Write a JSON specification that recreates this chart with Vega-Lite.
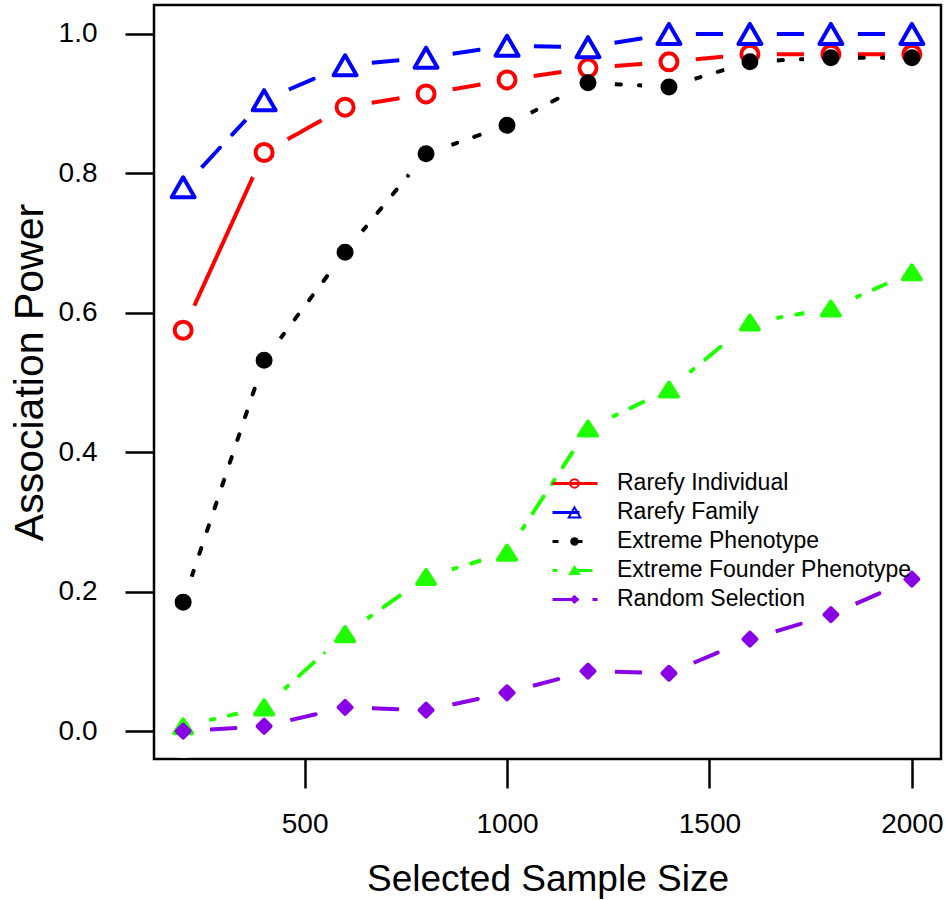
{
  "$schema": "https://vega.github.io/schema/vega-lite/v6.json",
  "width": 787,
  "height": 754,
  "autosize": {"type": "none"},
  "padding": {"left": 154, "top": 5, "right": 5, "bottom": 141},
  "background": "white",
  "config": {
    "font": "Liberation Sans",
    "view": {"stroke": "black", "strokeWidth": 2.5},
    "axis": {
      "grid": false,
      "domain": false,
      "tickColor": "black",
      "tickWidth": 2.5,
      "tickSize": 29,
      "labelColor": "black",
      "labelFontSize": 28,
      "labelFont": "Liberation Sans",
      "titleColor": "black",
      "titleFont": "Liberation Sans",
      "titleFontWeight": "normal"
    },
    "legend": {
      "orient": "none",
      "labelFontSize": 23,
      "labelColor": "black",
      "labelFont": "Liberation Sans",
      "labelLimit": 400,
      "clipHeight": 28.75,
      "rowPadding": 0,
      "padding": 0
    }
  },
  "data": {
    "values": [
      {"series": "Rarefy Individual", "n": 200, "power": 0.575},
      {"series": "Rarefy Individual", "n": 400, "power": 0.830},
      {"series": "Rarefy Individual", "n": 600, "power": 0.895},
      {"series": "Rarefy Individual", "n": 800, "power": 0.914},
      {"series": "Rarefy Individual", "n": 1000, "power": 0.934},
      {"series": "Rarefy Individual", "n": 1200, "power": 0.951},
      {"series": "Rarefy Individual", "n": 1400, "power": 0.960},
      {"series": "Rarefy Individual", "n": 1600, "power": 0.971},
      {"series": "Rarefy Individual", "n": 1800, "power": 0.971},
      {"series": "Rarefy Individual", "n": 2000, "power": 0.971},
      {"series": "Rarefy Family", "n": 200, "power": 0.780},
      {"series": "Rarefy Family", "n": 400, "power": 0.905},
      {"series": "Rarefy Family", "n": 600, "power": 0.955},
      {"series": "Rarefy Family", "n": 800, "power": 0.966},
      {"series": "Rarefy Family", "n": 1000, "power": 0.983},
      {"series": "Rarefy Family", "n": 1200, "power": 0.981},
      {"series": "Rarefy Family", "n": 1400, "power": 1.0},
      {"series": "Rarefy Family", "n": 1600, "power": 1.0},
      {"series": "Rarefy Family", "n": 1800, "power": 1.0},
      {"series": "Rarefy Family", "n": 2000, "power": 1.0},
      {"series": "Extreme Phenotype", "n": 200, "power": 0.185},
      {"series": "Extreme Phenotype", "n": 400, "power": 0.532},
      {"series": "Extreme Phenotype", "n": 600, "power": 0.687},
      {"series": "Extreme Phenotype", "n": 800, "power": 0.828},
      {"series": "Extreme Phenotype", "n": 1000, "power": 0.869},
      {"series": "Extreme Phenotype", "n": 1200, "power": 0.930},
      {"series": "Extreme Phenotype", "n": 1400, "power": 0.924},
      {"series": "Extreme Phenotype", "n": 1600, "power": 0.960},
      {"series": "Extreme Phenotype", "n": 1800, "power": 0.966},
      {"series": "Extreme Phenotype", "n": 2000, "power": 0.966},
      {"series": "Extreme Founder Phenotype", "n": 200, "power": 0.007},
      {"series": "Extreme Founder Phenotype", "n": 400, "power": 0.034},
      {"series": "Extreme Founder Phenotype", "n": 600, "power": 0.139},
      {"series": "Extreme Founder Phenotype", "n": 800, "power": 0.221},
      {"series": "Extreme Founder Phenotype", "n": 1000, "power": 0.256},
      {"series": "Extreme Founder Phenotype", "n": 1200, "power": 0.434},
      {"series": "Extreme Founder Phenotype", "n": 1400, "power": 0.490},
      {"series": "Extreme Founder Phenotype", "n": 1600, "power": 0.586},
      {"series": "Extreme Founder Phenotype", "n": 1800, "power": 0.606},
      {"series": "Extreme Founder Phenotype", "n": 2000, "power": 0.658},
      {"series": "Random Selection", "n": 200, "power": 0.0},
      {"series": "Random Selection", "n": 400, "power": 0.007},
      {"series": "Random Selection", "n": 600, "power": 0.034},
      {"series": "Random Selection", "n": 800, "power": 0.030},
      {"series": "Random Selection", "n": 1000, "power": 0.055},
      {"series": "Random Selection", "n": 1200, "power": 0.086},
      {"series": "Random Selection", "n": 1400, "power": 0.083},
      {"series": "Random Selection", "n": 1600, "power": 0.132},
      {"series": "Random Selection", "n": 1800, "power": 0.167},
      {"series": "Random Selection", "n": 2000, "power": 0.218}
    ]
  },
  "encoding": {
    "x": {
      "field": "n",
      "type": "quantitative",
      "scale": {"domain": [128, 2072], "nice": false, "zero": false},
      "axis": {
        "values": [500, 1000, 1500, 2000],
        "format": "d",
        "title": "Selected Sample Size",
        "titleFontSize": 37,
        "titleBaseline": "alphabetic",
        "titleY": 131,
        "labelPadding": 22,
        "labelFlush": false
      }
    },
    "y": {
      "field": "power",
      "type": "quantitative",
      "scale": {"domain": [-0.04, 1.0415], "nice": false, "zero": false},
      "axis": {
        "values": [0, 0.2, 0.4, 0.6, 0.8, 1.0],
        "format": ".1f",
        "title": "Association Power",
        "titleFontSize": 41,
        "titleBaseline": "alphabetic",
        "titleAngle": 270,
        "titleX": -112,
        "titleY": 367,
        "titleAlign": "center",
        "labelPadding": 28,
        "labelFlush": false
      }
    }
  },
  "layer": [
    {
      "transform": [
        {"filter": "datum.series === 'Rarefy Individual'"},
        {"window": [{"op": "lead", "field": "n", "as": "n2"}, {"op": "lead", "field": "power", "as": "p2"}], "sort": [{"field": "n", "order": "ascending"}]},
        {"filter": "datum.n2 != null"}
      ],
      "mark": {"type": "rule", "strokeWidth": 4, "strokeCap": "round"},
      "encoding": {
        "x2": {"field": "n2"},
        "y2": {"field": "p2"},
        "color": {
          "field": "series", "type": "nominal",
          "scale": {"domain": ["Rarefy Individual", "Rarefy Family", "Extreme Phenotype", "Extreme Founder Phenotype", "Random Selection"], "range": ["#FF0000", "#0000FF", "#000000", "#20FF00", "#8A00E6"]},
          "legend": {"legendX": 397, "legendY": 464, "title": null, "symbolType": "stroke", "symbolSize": 2025, "symbolStrokeWidth": 3, "labelOffset": 18}
        },
        "strokeDash": {
          "field": "series", "type": "nominal",
          "scale": {"domain": ["Rarefy Individual", "Rarefy Family", "Extreme Phenotype", "Extreme Founder Phenotype", "Random Selection"], "range": [[1, 0], [27, 18], [6, 18], [5, 15, 20, 15], [26, 14]]},
          "legend": {"legendX": 397, "legendY": 464, "title": null, "symbolType": "stroke", "symbolSize": 2025, "symbolStrokeWidth": 3, "labelOffset": 18}
        }
      }
    },
    {
      "transform": [
        {"filter": "datum.series === 'Rarefy Family'"},
        {"window": [{"op": "lead", "field": "n", "as": "n2"}, {"op": "lead", "field": "power", "as": "p2"}], "sort": [{"field": "n", "order": "ascending"}]},
        {"filter": "datum.n2 != null"}
      ],
      "mark": {"type": "rule", "strokeWidth": 4, "strokeCap": "round", "strokeDashOffset": 18},
      "encoding": {
        "x2": {"field": "n2"},
        "y2": {"field": "p2"},
        "color": {"field": "series", "type": "nominal"},
        "strokeDash": {"field": "series", "type": "nominal"}
      }
    },
    {
      "transform": [
        {"filter": "datum.series === 'Extreme Phenotype'"},
        {"window": [{"op": "lead", "field": "n", "as": "n2"}, {"op": "lead", "field": "power", "as": "p2"}], "sort": [{"field": "n", "order": "ascending"}]},
        {"filter": "datum.n2 != null"}
      ],
      "mark": {"type": "rule", "strokeWidth": 4, "strokeCap": "round", "strokeDashOffset": 21},
      "encoding": {
        "x2": {"field": "n2"},
        "y2": {"field": "p2"},
        "color": {"field": "series", "type": "nominal"},
        "strokeDash": {"field": "series", "type": "nominal"}
      }
    },
    {
      "transform": [
        {"filter": "datum.series === 'Extreme Founder Phenotype'"},
        {"window": [{"op": "lead", "field": "n", "as": "n2"}, {"op": "lead", "field": "power", "as": "p2"}], "sort": [{"field": "n", "order": "ascending"}]},
        {"filter": "datum.n2 != null"}
      ],
      "mark": {"type": "rule", "strokeWidth": 4, "strokeCap": "round", "strokeDashOffset": 28},
      "encoding": {
        "x2": {"field": "n2"},
        "y2": {"field": "p2"},
        "color": {"field": "series", "type": "nominal"},
        "strokeDash": {"field": "series", "type": "nominal"}
      }
    },
    {
      "transform": [
        {"filter": "datum.series === 'Random Selection'"},
        {"window": [{"op": "lead", "field": "n", "as": "n2"}, {"op": "lead", "field": "power", "as": "p2"}], "sort": [{"field": "n", "order": "ascending"}]},
        {"filter": "datum.n2 != null"}
      ],
      "mark": {"type": "rule", "strokeWidth": 4, "strokeCap": "round", "strokeDashOffset": 13},
      "encoding": {
        "x2": {"field": "n2"},
        "y2": {"field": "p2"},
        "color": {"field": "series", "type": "nominal"},
        "strokeDash": {"field": "series", "type": "nominal"}
      }
    },
    {
      "mark": {"type": "point", "shape": "circle", "filled": true, "color": "white", "size": 2916, "opacity": 1, "strokeWidth": 0},
      "encoding": {}
    },
    {
      "mark": {"type": "point", "size": 400, "strokeWidth": 4, "strokeJoin": "round", "opacity": 1},
      "encoding": {
        "shape": {
          "field": "series", "type": "nominal", "sort": null,
          "scale": {
            "range": [
              "M-0.85,0A0.85,0.85,0,1,1,0.85,0A0.85,0.85,0,1,1,-0.85,0Z",
              "M0,-1L1.15,1L-1.15,1Z",
              "M-0.65,0A0.65,0.65,0,1,1,0.65,0A0.65,0.65,0,1,1,-0.65,0Z",
              "M0,-0.7L0.9,0.7L-0.9,0.7Z",
              "M-0.65,0L0,-0.65L0.65,0L0,0.65Z"
            ]
          },
          "legend": {"legendX": 409, "legendY": 464, "title": null, "symbolSize": 100, "symbolStrokeWidth": 2, "labelExpr": "''"}
        },
        "fill": {
          "field": "series", "type": "nominal", "sort": null,
          "scale": {"range": ["transparent", "transparent", "#000000", "#20FF00", "#8A00E6"]},
          "legend": {"legendX": 409, "legendY": 464, "title": null, "symbolSize": 100, "symbolStrokeWidth": 2, "labelExpr": "''"}
        },
        "stroke": {
          "field": "series", "type": "nominal", "sort": null,
          "scale": {"range": ["#FF0000", "#0000FF", "#000000", "#20FF00", "#8A00E6"]},
          "legend": {"legendX": 409, "legendY": 464, "title": null, "symbolSize": 100, "symbolStrokeWidth": 2, "labelExpr": "''"}
        }
      }
    }
  ]
}
